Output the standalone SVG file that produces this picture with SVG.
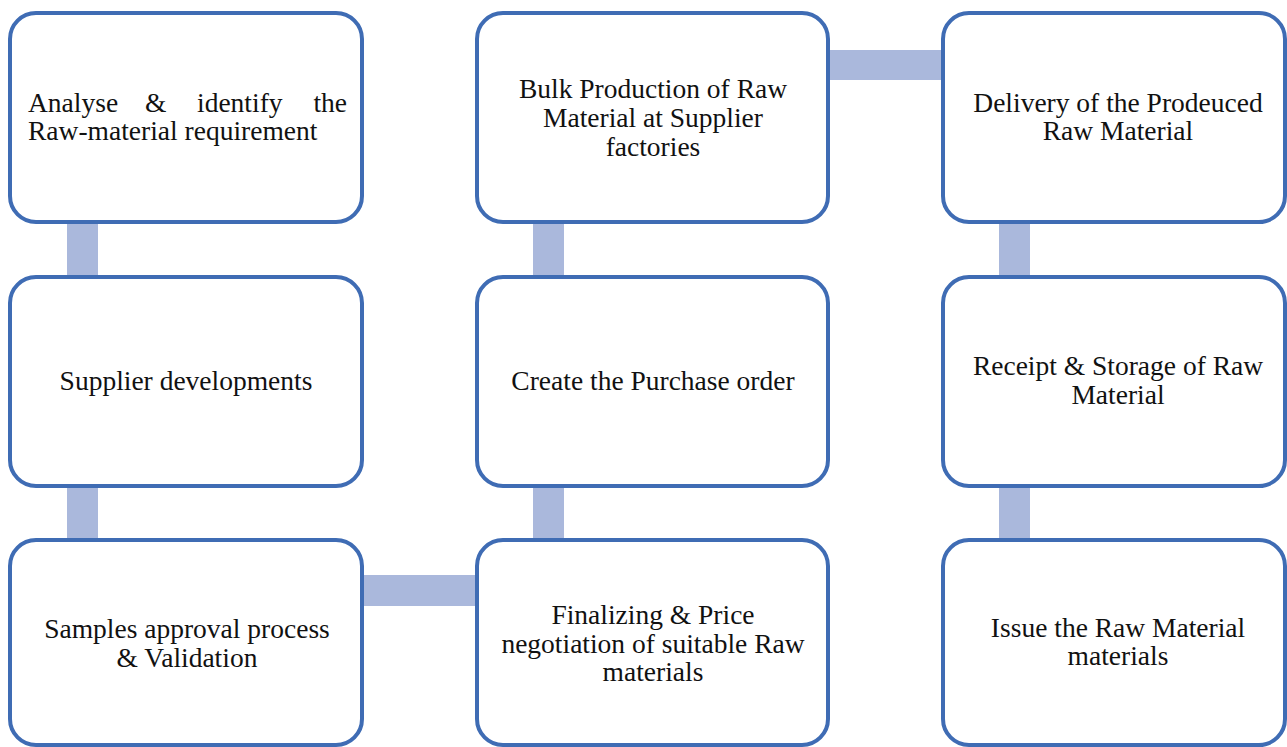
<svg xmlns="http://www.w3.org/2000/svg" width="1287" height="747" viewBox="0 0 1287 747">
<style>
.box{fill:#ffffff;stroke:#3f6cb4;stroke-width:4}
.bar{fill:#aab8dc}
text{font-family:"Liberation Serif","Times New Roman",serif;font-size:27.5px;fill:#111111}
.c{text-anchor:middle}
</style>
<rect width="1287" height="747" fill="#ffffff"/>
<g id="connectors">
<rect class="bar" x="67" y="220" width="31" height="60"/>
<rect class="bar" x="67" y="484" width="31" height="58"/>
<rect class="bar" x="533" y="220" width="31" height="60"/>
<rect class="bar" x="533" y="484" width="31" height="58"/>
<rect class="bar" x="999" y="220" width="31" height="60"/>
<rect class="bar" x="999" y="484" width="31" height="58"/>
<rect class="bar" x="360" y="575" width="119" height="31"/>
<rect class="bar" x="826" y="50" width="119" height="30"/>
</g>
<g id="n1">
<rect class="box" x="10" y="13" width="352" height="209" rx="26"/>
<text x="28" y="112">Analyse</text>
<text x="145" y="112">&amp;</text>
<text x="197" y="112">identify</text>
<text x="347" y="112" text-anchor="end">the</text>
<text x="28" y="140">Raw-material requirement</text>
</g>
<g id="n2">
<rect class="box" x="10" y="277" width="352" height="209" rx="26"/>
<text class="c" x="186" y="390">Supplier developments</text>
</g>
<g id="n3">
<rect class="box" x="10" y="540" width="352" height="205" rx="26"/>
<text class="c" x="187" y="638">Samples approval process</text>
<text class="c" x="187" y="667">&amp; Validation</text>
</g>
<g id="n4">
<rect class="box" x="477" y="540" width="351" height="205" rx="26"/>
<text class="c" x="653" y="624">Finalizing &amp; Price</text>
<text class="c" x="653" y="653">negotiation of suitable Raw</text>
<text class="c" x="653" y="681">materials</text>
</g>
<g id="n5">
<rect class="box" x="477" y="277" width="351" height="209" rx="26"/>
<text class="c" x="653" y="390">Create the Purchase order</text>
</g>
<g id="n6">
<rect class="box" x="477" y="13" width="351" height="209" rx="26"/>
<text class="c" x="653" y="98">Bulk Production of Raw</text>
<text class="c" x="653" y="127">Material at Supplier</text>
<text class="c" x="653" y="156">factories</text>
</g>
<g id="n7">
<rect class="box" x="943" y="13" width="342" height="209" rx="26"/>
<text class="c" x="1118" y="112">Delivery of the Prodeuced</text>
<text class="c" x="1118" y="140">Raw Material</text>
</g>
<g id="n8">
<rect class="box" x="943" y="277" width="342" height="209" rx="26"/>
<text class="c" x="1118" y="375">Receipt &amp; Storage of Raw</text>
<text class="c" x="1118" y="404">Material</text>
</g>
<g id="n9">
<rect class="box" x="943" y="540" width="342" height="205" rx="26"/>
<text class="c" x="1118" y="637">Issue the Raw Material</text>
<text class="c" x="1118" y="665">materials</text>
</g>
</svg>
